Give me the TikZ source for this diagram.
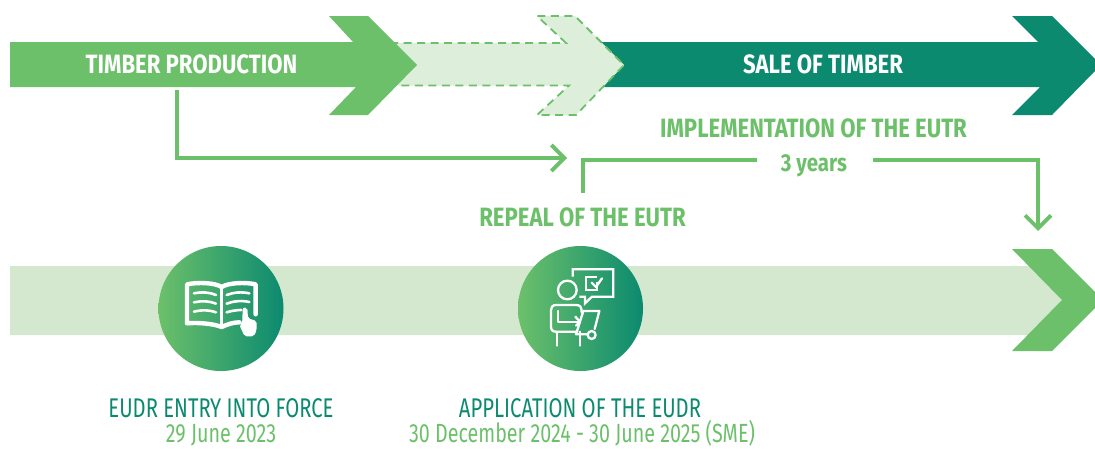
\documentclass[tikz,border=0pt]{standalone}
\usepackage{fontspec}
\setmainfont[FakeStretch=0.75]{Fira Sans}
\newfontfamily\headfont[FakeStretch=0.835]{Fira Sans}
\usetikzlibrary{arrows.meta}
\definecolor{lgreen}{HTML}{6CC06A}
\definecolor{dgreen}{HTML}{0B8A6F}
\definecolor{pale}{HTML}{D3E8CE}
\definecolor{pale2}{HTML}{DDEEDB}
\tikzset{
  lead/.style={draw=lgreen,line width=3.8pt,line cap=butt,line join=miter},
  leadarrow/.style={lead,-{Straight Barb[length=13pt,width=26pt,line width=3.8pt]}},
  capt/.style={font=\headfont\fontsize{26.5}{28}\selectfont\bfseries,text=lgreen,inner sep=0pt,anchor=base},
  white label/.style={capt,text=white},
  small/.style={font=\headfont\fontsize{24.5}{26}\selectfont\bfseries,text=lgreen,inner sep=0pt,anchor=base},
  datecap/.style={font=\fontsize{27}{29}\selectfont,inner sep=0pt,anchor=base},
  when/.style={font=\fontsize{26.3}{28}\selectfont,inner sep=0pt,anchor=base,text=lgreen},
  disc/.style={circle,minimum size=125pt,inner sep=0pt,left color=lgreen,right color=dgreen,shading angle=90},
  iconline/.style={draw=white,line width=2.3pt,line cap=round,line join=round},
  bookline/.style={draw=white,line width=2.6pt,line cap=round,line join=round},
}
\begin{document}
\begin{tikzpicture}[x=1pt,y=-1pt]
\useasboundingbox (0,0) rectangle (1095,448);
% top arrows
\fill[dgreen] (600,42) -- (1038,42) -- (1012,16) -- (1052,16) -- (1095,59) -- (1095,71) -- (1052,115) -- (1012,115) -- (1040,87) -- (600,87) -- cycle;
\draw[fill=pale2,draw=lgreen,line width=1.8pt,dash pattern=on 8pt off 5.5pt] (390,43) -- (566,43) -- (537,16) -- (575,16) -- (624,65) -- (576,115) -- (537,115) -- (569,85.5) -- (390,85.5) -- cycle;
\fill[lgreen] (10,42) -- (353,42) -- (329,16) -- (368,16) -- (417,65) -- (368,115) -- (329,115) -- (356,87) -- (10,87) -- cycle;
% band
\fill[pale] (10,266) -- (1030,266) -- (1064,300) -- (1030,335) -- (10,335) -- cycle;
\fill[lgreen] (1012,249) -- (1052,249) -- (1095,292) -- (1095,308) -- (1052,351) -- (1012,351) -- (1062,300) -- cycle;
% labels
\node[white label] (timber) at (191.5,73) {TIMBER PRODUCTION};
\node[white label] (sale) at (823,73) {SALE OF TIMBER};
\node[capt] (impl) at (813.5,137) {IMPLEMENTATION OF THE EUTR};
\node[small] (years) at (814,171) {3 years};
\node[capt] (repeal) at (582.5,226) {REPEAL OF THE EUTR};
% connectors
\coordinate (tstart) at (177,90);
\coordinate (tcorner) at (177,158);
\coordinate (tend) at (567,158);
\coordinate (rstart) at (583,193);
\coordinate (rcorner) at (583,160);
\coordinate (rgap) at (757,160);
\coordinate (igap) at (873,160);
\coordinate (icorner) at (1038,160);
\coordinate (iend) at (1038,231);
\draw[leadarrow] (tstart) -- (tcorner) -- (tend);
\draw[lead] (rstart) -- (rcorner) -- (rgap);
\draw[leadarrow] (igap) -- (icorner) -- (iend);
% discs
\node[disc] (d1) at (221,308.5) {};
\node[disc] (d2) at (580.5,308.5) {};
% book icon
\begin{scope}[shift={(140,235)},x=0.3333pt,y=-0.3333pt]
\draw[white,line width=4.4pt,line join=round,line cap=round]
  (298,262) .. controls (280,262) and (262,268) .. (245,276) .. controls (220,266) and (175,262) .. (141,265) -- (141,148) .. controls (175,141) and (225,143) .. (245,156) .. controls (265,143) and (315,141) .. (347,148) -- (347,238);
\draw[white,line width=3pt] (245,156) -- (245,272);
\draw[bookline] (162,175) .. controls (185,170) and (210,172) .. (228,180);
\draw[bookline] (162,202) .. controls (185,197) and (210,198) .. (228,206);
\draw[bookline] (162,230) .. controls (185,224) and (210,225) .. (228,232);
\draw[bookline] (260,180) .. controls (280,172) and (305,170) .. (328,175);
\draw[bookline] (260,206) .. controls (280,198) and (305,196) .. (328,201);
\draw[bookline] (260,232) .. controls (272,228) and (290,225) .. (304,225);
\fill[white,rounded corners=2pt] (308,218) -- (322,218) -- (324,250) -- (350,258) -- (350,285) -- (342,304) -- (314,304) -- (298,270) -- (307,262) -- cycle;
\end{scope}
% person icon
\begin{scope}[shift={(500,235)},x=0.3333pt,y=-0.3333pt]
\draw[iconline,line cap=butt,line join=miter] (218,125) -- (218,103) -- (340,103) -- (340,185) -- (276,185) -- (255,205) -- (255,185) -- (238,185);
\draw[iconline,line cap=butt,line join=miter] (292,140) -- (292,165) -- (258,165) -- (258,127) -- (292,127);
\draw[iconline] (275,143) -- (288,156) -- (306,130);
\draw[iconline] (202,165) circle[radius=28];
\draw[iconline] (245,232) .. controls (245,215) and (240,210) .. (228,210) -- (168,210) .. controls (158,210) and (153,216) .. (153,225) -- (153,275) .. controls (153,285) and (158,290) .. (168,290) -- (232,290);
\draw[iconline] (175,228) -- (175,262) -- (238,262);
\draw[iconline] (226,245) -- (240,260) -- (228,272);
\draw[iconline] (172,290) -- (172,332);
\draw[iconline] (240,290) -- (240,332);
\draw[iconline] (250,228) -- (298,228) -- (284,282);
\draw[iconline] (250,228) -- (228,298) -- (262,298);
\draw[iconline] (275,300) circle[radius=12];
\end{scope}
% captions
\node[datecap,text=dgreen] (entry) at (221,417) {EUDR ENTRY INTO FORCE};
\node[when] (entrydate) at (221,442.5) {29 June 2023};
\node[datecap,text=dgreen] (appl) at (580,417) {APPLICATION OF THE EUDR};
\node[when] (appldate) at (582,442.5) {30 December 2024 - 30 June 2025 (SME)};
\end{tikzpicture}
\end{document}
